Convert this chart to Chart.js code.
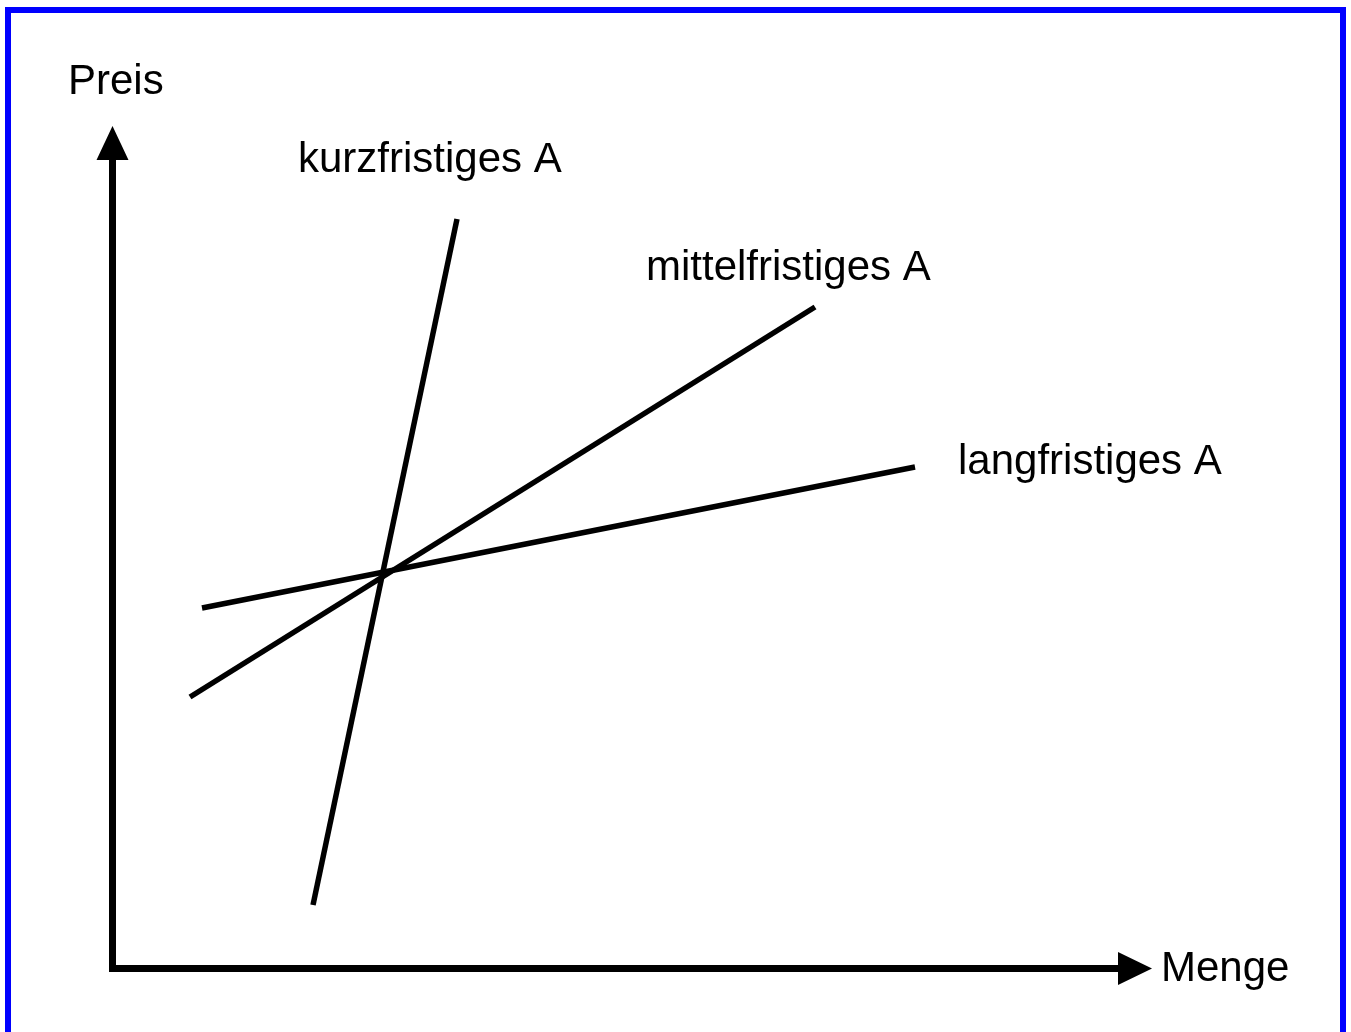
<!DOCTYPE html>
<html>
<head>
<meta charset="utf-8">
<script src="https://cdn.jsdelivr.net/npm/chart.js@4/dist/chart.umd.min.js"></script>
<style>
  html, body { margin: 0; padding: 0; background: #fff; }
  #wrap { position: relative; width: 1351px; height: 1032px; }
</style>
</head>
<body>
<div id="wrap"><canvas id="angebot"></canvas></div>
<script>
// Angebotskurven (Menge / Preis), Einheiten frei gewählt
const kurzfristig = [{ x: 20.1, y: 6.3 }, { x: 34.5, y: 74.9 }];
const mittelfristig = [{ x: 7.8, y: 27.1 }, { x: 70.3, y: 66.1 }];
const langfristig = [{ x: 9.0, y: 36.0 }, { x: 80.3, y: 50.1 }];

const kurvenNamen = ['kurzfristiges A', 'mittelfristiges A', 'langfristiges A'];
const achsenNamen = { x: 'Menge', y: 'Preis' };

const FONT = '42px "Liberation Sans", Arial, sans-serif';

const diagramm = {
    id: 'diagramm',
    afterDatasetsDraw(chart) {
        const ctx = chart.ctx;
        const xs = chart.scales.x;
        const ys = chart.scales.y;
        const x0 = xs.getPixelForValue(0) + 0.5;
        const y0 = ys.getPixelForValue(0) + 0.5;
        const xEnd = xs.getPixelForValue(xs.max);
        const yEnd = ys.getPixelForValue(ys.max);

        ctx.save();
        // blauer Rahmen
        ctx.strokeStyle = '#0000ff';
        ctx.lineWidth = 6;
        ctx.strokeRect(8, 10, 1335, 1040);

        // Achsen
        ctx.strokeStyle = '#000';
        ctx.fillStyle = '#000';
        ctx.lineWidth = 7;
        ctx.lineJoin = 'miter';
        ctx.beginPath();
        ctx.moveTo(x0, yEnd + 34);
        ctx.lineTo(x0, y0);
        ctx.lineTo(xEnd - 34, y0);
        ctx.stroke();

        // Pfeilspitzen
        ctx.beginPath();
        ctx.moveTo(x0, yEnd);
        ctx.lineTo(x0 - 16, yEnd + 34);
        ctx.lineTo(x0 + 16, yEnd + 34);
        ctx.closePath();
        ctx.fill();
        ctx.beginPath();
        ctx.moveTo(xEnd, y0);
        ctx.lineTo(xEnd - 34, y0 - 16.5);
        ctx.lineTo(xEnd - 34, y0 + 16.5);
        ctx.closePath();
        ctx.fill();

        // Beschriftungen
        ctx.font = FONT;
        ctx.textBaseline = 'middle';
        ctx.textAlign = 'left';
        ctx.fillText(achsenNamen.y, 68, 82);
        ctx.fillText(achsenNamen.x, xEnd + 9, y0 + 1);
        ctx.fillText(kurvenNamen[0], xs.getPixelForValue(18.6), ys.getPixelForValue(80.8));
        ctx.fillText(kurvenNamen[1], xs.getPixelForValue(53.4), ys.getPixelForValue(70.0));
        ctx.fillText(kurvenNamen[2], xs.getPixelForValue(84.6), ys.getPixelForValue(50.6));
        ctx.restore();
    },
};

const linie = (data) => ({
    data: data,
    showLine: true,
    borderColor: '#000',
    borderWidth: 5.5,
    borderCapStyle: 'butt',
    pointRadius: 0,
    pointHoverRadius: 0,
    fill: false,
    tension: 0,
    clip: false,
});

new Chart(document.getElementById('angebot'), {
    type: 'scatter',
    data: {
        datasets: [linie(kurzfristig), linie(mittelfristig), linie(langfristig)],
    },
    options: {
        responsive: true,
        maintainAspectRatio: false,
        animation: false,
        layout: {
            padding: { left: 112, right: 199, top: 126, bottom: 64 },
        },
        scales: {
            x: { type: 'linear', min: 0, max: 104, display: false },
            y: { type: 'linear', min: 0, max: 84.2, display: false },
        },
        plugins: {
            legend: { display: false },
            tooltip: { enabled: false },
            title: { display: false },
        },
    },
    plugins: [diagramm],
});
</script>
</body>
</html>
